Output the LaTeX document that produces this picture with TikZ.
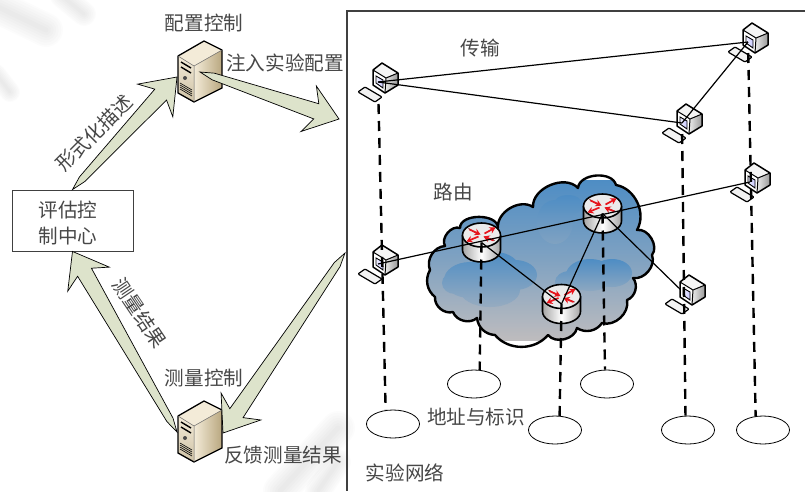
\documentclass[tikz,border=0pt]{standalone}
\usepackage{fontspec}
\setmainfont{Noto Sans CJK SC}
\usetikzlibrary{arrows.meta,calc,shapes.geometric}
\definecolor{arrowgreen}{HTML}{DDE3CB}
\definecolor{cloudblue}{HTML}{4E8DC4}
\definecolor{cloudgray}{HTML}{BEBCBE}
\definecolor{servercream}{HTML}{F3EBD8}
\definecolor{servertan}{HTML}{B9A77F}
\definecolor{routerred}{HTML}{E8141C}
\tikzset{
  label/.style={text=black!72, font=\fontsize{19.6}{26}\selectfont, inner sep=0pt},
  fatline/.style={draw=black, line width=.7pt, fill=arrowgreen, line join=miter},
  linkline/.style={draw=black, line width=1.2pt},
  probe/.style={draw=black, line width=2.4pt, dash pattern=on 10pt off 7pt},
  addr/.style={draw=black, line width=.8pt, ellipse, fill=white, minimum width=53pt, minimum height=28pt, inner sep=0pt},
  hostpc/.pic={
    \draw[line width=1.2pt, fill=black!5, rounded corners=1pt] (-20,10) -- (-13,5) -- (4,15) -- (-3,20) -- cycle;
    \fill[black!4] (-5,-12) -- (4,-19) -- (20,-9) -- (8,-4) -- cycle;
    \shade[left color=black!8, right color=black!40] (8,-4) -- (20,-9) -- (20,3) -- (7,11) -- cycle;
    \fill[white] (-5,-12) -- (8,-4) -- (7,11) -- (-5,3) -- cycle;
    \shade[left color=blue!6, right color=blue!22] (-2,-6) -- (5,-2) -- (5,6) -- (-2,1) -- cycle;
    \draw[line width=.9pt] (-2,-6) -- (5,-2) -- (5,6) -- (-2,1) -- cycle;
    \draw[line width=1.5pt, line join=round] (-5,-12) -- (4,-19) -- (20,-9) -- (20,3) -- (7,11) -- (-5,3) -- cycle;
    \draw[line width=1pt] (-5,-12) -- (8,-4) -- (7,11) (8,-4) -- (20,-9);
  },
  serverbox/.pic={
    \fill[servercream] (-21,-15) -- (5,-30) -- (23,-21) -- (-5,-5) -- cycle;
    \shade[left color=servercream, right color=servertan] (-5,-5) -- (23,-21) -- (23,17) -- (-5,31) -- cycle;
    \shade[top color=servercream, bottom color=servertan!70] (-21,-15) -- (-5,-5) -- (-5,31) -- (-21,22) -- cycle;
    \draw[line width=1.3pt, line join=round] (-21,-15) -- (5,-30) -- (23,-21) -- (23,17) -- (-5,31) -- (-21,22) -- cycle;
    \draw[line width=.5pt, black!60] (-21,-15) -- (-5,-5) -- (23,-21) (-5,-5) -- (-5,31);
    \draw[line width=1.4pt] (-18,-9) -- (-8,-3) (-18,-4) -- (-8,2);
    \fill[black!70] (-14,7) circle (2pt);
    \foreach \i in {0,2,4,6} {
      \draw[line width=.6pt] (-19,12+\i) -- (-7,19+\i);
    }
  },
  routerbox/.pic={
    \shade[left color=black!35, right color=black!35, middle color=white] (-19,-7.5) -- (-19,7.5) arc (180:0:19 and 12) -- (19,-7.5) -- cycle;
    \draw[line width=1.6pt] (-19,-7.5) -- (-19,7.5) arc (180:0:19 and 12) -- (19,-7.5);
    \draw[line width=1.6pt, fill=black!8] (0,-7.5) ellipse (19 and 12);
    \draw[black!60!red, line width=.8pt] (-13,-14) -- (-3,-8) (13,-2) -- (3,-6);
    \draw[routerred, line width=1.7pt, -{Stealth[length=6pt,width=7pt]}] (3,-9) -- (14,-15);
    \draw[routerred, line width=1.7pt, -{Stealth[length=6pt,width=7pt]}] (-3,-6) -- (-15,-1);
    \draw[routerred, line width=1.7pt, -{Stealth[length=6pt,width=7pt]}] (-12,-13) -- (-1,-8);
    \draw[routerred, line width=1.7pt, -{Stealth[length=6pt,width=7pt]}] (12,-2) -- (2,-6);
  },
}
\newcommand{\fatarrow}[2]{
  \draw[fatline] (#1) -- ($(#1)!14pt!(#2)!3.5pt!90:(#2)$) -- ($(#2)!24pt!(#1)!8pt!-90:(#1)$) -- ($(#2)!32pt!(#1)!24pt!-90:(#1)$) -- (#2) -- ($(#2)!32pt!(#1)!24pt!90:(#1)$) -- ($(#2)!24pt!(#1)!8pt!90:(#1)$) -- ($(#1)!14pt!(#2)!3.5pt!-90:(#2)$) -- cycle;
}
\newcommand{\streak}[3]{
  \foreach \w in {.15,.3,.45,.6,.75,.9,1} {
    \draw[black, opacity=.012, line cap=round, line width=\w*#3] #1 -- #2;
  }
}
\newcommand{\cloudpath}{(430,270) to[bend left=55] (445,246) to[bend left=70] (460,228) to[bend left=90] (498,228) to[bend left=65] (533,207) to[bend left=70] (578,188) to[bend left=80] (616,185) to[bend left=55] (637,230) to[bend left=70] (652,255) to[bend left=60] (633,278) to[bend left=55] (627,300) to[bend left=60] (602,323) to[bend left=45] (577,328) to[bend left=65] (548,335) to[bend left=50] (495,335) to[bend left=40] (477,318) to[bend left=55] (453,312) to[bend left=55] (435,297) to[bend left=40] (430,270)}
\begin{document}
\begin{tikzpicture}[x=1pt, y=-1pt]
  \clip (0,0) rectangle (805,491);
  \fill[white] (0,0) rectangle (805,491);
  \streak{(-4,6)}{(46,30)}{34pt}
  \streak{(62,-4)}{(84,14)}{24pt}
  \streak{(-4,74)}{(10,92)}{20pt}
  \streak{(338,428)}{(280,491)}{34pt}
  \streak{(338,462)}{(318,491)}{26pt}

  \draw[black!75, line width=1.3pt] (805,11) -- (347,11) -- (347,491);

  \node[draw=black!75, line width=.9pt, minimum width=121pt, minimum height=61pt, inner sep=0pt] (eval) at (72.5,220.5) {};
  \node[label, align=center] (evaltxt) at (68,223) {评估控\\制中心};
  \coordinate (cfg) at (199,71);
  \coordinate (meas) at (199,431);
  \coordinate (netin) at (339,119);
  \coordinate (netout) at (345,253);

  \fatarrow{eval.north}{$(cfg)+(-22,6)$}
  \fatarrow{$(meas)+(-22,1)$}{eval.south}
  \pic at (cfg) {serverbox};
  \pic at (meas) {serverbox};
  \fatarrow{$(cfg)+(1,1)$}{netin}
  \fatarrow{netout}{$(meas)+(24,2)$}

  \node[label] (cfgtxt) at (204,23) {配置控制};
  \node[label] (injtxt) at (285,63) {注入实验配置};
  \node[label] (meastxt) at (204,378) {测量控制};
  \node[label] (backtxt) at (283,455) {反馈测量结果};
  \node[label, rotate=45] (desctxt) at (94,133) {形式化描述};
  \node[label, rotate=-56] (restxt) at (140,313) {测量结果};

  \begin{scope}
    \clip \cloudpath;
    \shade[top color=cloudblue, bottom color=cloudgray, middle color=cloudblue!55!cloudgray] (420,180) rectangle (660,340);
    \shade[top color=cloudblue, bottom color=cloudblue!35!cloudgray] (470,280) ellipse (26 and 18) (495,270) ellipse (25 and 18) (515,275) ellipse (22 and 15) (490,290) ellipse (30 and 17) (455,283) ellipse (13 and 11);
    \shade[top color=cloudblue, bottom color=cloudblue!40!cloudgray] (590,275) ellipse (24 and 16) (570,282) ellipse (15 and 11) (612,273) ellipse (20 and 14);
    \shade[top color=cloudblue, bottom color=cloudblue!55!cloudgray] (555,222) ellipse (18 and 22) (568,205) ellipse (15 and 10);
  \end{scope}
  \draw[black, line width=2.4pt, line join=round] \cloudpath -- cycle;

  \coordinate (ha) at (378,82);
  \coordinate (hb) at (748,42);
  \coordinate (hc) at (682,123);
  \coordinate (hd) at (750,182);
  \coordinate (he) at (378,264);
  \coordinate (hf) at (685,294);
  \coordinate (ra) at (481.5,242.5);
  \coordinate (rb) at (602.5,213.5);
  \coordinate (rc) at (561.5,304);

  \node[addr] (ea) at (393,424) {};
  \node[addr] (eb) at (474,384) {};
  \node[addr] (ec) at (555,430) {};
  \node[addr] (ed) at (607,384) {};
  \node[addr] (ee) at (688,430) {};
  \node[addr] (ef) at (763,430) {};

  \foreach \h in {ha,hb,hc,hd,he} {
    \pic at (\h) {hostpc};
  }
  \pic at (ra) {routerbox};
  \pic at (rb) {routerbox};
  \pic at (rc) {routerbox};

  \draw[linkline] (ha) -- (hb);
  \draw[linkline] (ha) -- (hc);
  \draw[linkline] (hc) -- (hb);
  \draw[linkline] (he) -- (hd);
  \draw[linkline] (ra) -- (rc);
  \draw[linkline] (rc) -- (rb);
  \draw[linkline] (rb) -- (hf);
  \pic at (hf) {hostpc};

  \draw[probe, shorten <=22pt] (ha) -- (ea.118);
  \draw[probe, shorten <=11pt] (hb) -- (ef.118);
  \draw[probe, shorten <=11pt] (hc) -- (ee.100);
  \draw[probe] (ra) -- (eb.68);
  \draw[probe] (rb) -- (ed.98);
  \draw[probe] (rc) -- (ec.72);

  \node[label] (transtxt) at (480,48) {传输};
  \node[label] (routetxt) at (453,192) {路由};
  \node[label] (addrtxt) at (476,417) {地址与标识};
  \node[label] (nettxt) at (405,473) {实验网络};
\end{tikzpicture}
\end{document}
